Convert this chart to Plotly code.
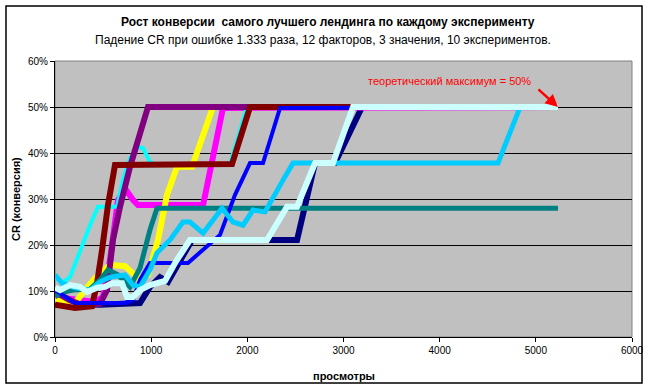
import plotly.graph_objects as go

# ---- data (views, CR %) ----
navy_x = [0, 468, 884, 988, 1092, 1175, 1425, 2517, 2704, 2912, 3193, 5230]
navy_y = [7.4, 7.0, 7.4, 10.9, 13.0, 12.0, 21.1, 21.1, 37.8, 37.8, 50.0, 50.0]

magenta_x = [0, 260, 416, 499, 572, 655, 738, 811, 863, 1540, 1747, 5230]
magenta_y = [8.7, 8.0, 7.6, 8.7, 16.7, 29.8, 32.0, 29.8, 28.7, 28.7, 49.8, 50.0]

yellow_x = [0, 208, 312, 416, 572, 728, 863, 967, 1071, 1165, 1269, 1425, 1643, 5230]
yellow_y = [8.0, 7.4, 10.2, 12.8, 15.7, 15.4, 12.8, 13.5, 21.1, 30.9, 37.0, 37.0, 50.0, 50.0]

cyan_x = [0, 73, 156, 260, 364, 447, 645, 707, 780, 863, 915, 988, 1040, 1820, 1997, 5230]
cyan_y = [13.0, 11.7, 13.0, 18.9, 24.3, 28.3, 28.3, 34.1, 38.9, 41.3, 41.1, 38.0, 37.6, 37.6, 50.0, 50.0]

purple_x = [0, 156, 312, 468, 541, 603, 676, 780, 967, 5230]
purple_y = [9.8, 8.0, 6.7, 7.2, 10.2, 21.1, 28.3, 37.0, 50.0, 50.0]

darkred_x = [0, 208, 385, 437, 489, 551, 624, 1841, 2028, 5230]
darkred_y = [7.0, 6.3, 6.7, 11.7, 18.9, 28.7, 37.4, 37.6, 50.0, 50.0]

teal_x = [0, 52, 187, 364, 468, 551, 655, 780, 884, 988, 1061, 5230]
teal_y = [8.7, 9.6, 10.2, 10.4, 12.4, 14.6, 13.5, 10.9, 15.0, 23.3, 28.0, 28.0]

blue_x = [0, 208, 728, 811, 884, 988, 1383, 1716, 1872, 2028, 2163, 2340, 5230]
blue_y = [10.2, 7.4, 7.4, 8.0, 12.4, 16.1, 16.1, 22.2, 30.9, 37.8, 37.8, 49.8, 50.0]

skyblue_x = [0, 73, 208, 364, 468, 572, 728, 811, 884, 988, 1061, 1196, 1331, 1404, 1540,
             1643, 1737, 1851, 1955, 2059, 2184, 2371, 2475, 4607, 4836, 5230]
skyblue_y = [13.5, 11.7, 10.7, 10.2, 12.0, 13.0, 13.5, 11.3, 10.9, 14.6, 18.3, 21.1, 25.0, 25.0, 22.6,
             25.4, 28.0, 25.0, 24.3, 27.6, 27.2, 34.1, 37.8, 37.8, 50.0, 50.0]

lightcyan_x = [0, 52, 156, 260, 333, 437, 520, 593, 697, 749, 811, 884, 988, 1144, 1248, 1404,
               2205, 2413, 2517, 2704, 2891, 3099, 5230]
lightcyan_y = [10.7, 10.2, 11.3, 10.9, 9.8, 10.7, 10.9, 11.7, 11.7, 8.7, 8.7, 10.2, 11.3, 12.2, 16.1, 21.1,
               21.1, 28.3, 28.3, 37.8, 37.8, 50.0, 50.0]

series = [
    (navy_x, navy_y, "#000080", 6),
    (magenta_x, magenta_y, "#FF00FF", 6),
    (yellow_x, yellow_y, "#FFFF00", 6),
    (cyan_x, cyan_y, "#00FFFF", 4),
    (purple_x, purple_y, "#800080", 6),
    (darkred_x, darkred_y, "#800000", 6),
    (teal_x, teal_y, "#008080", 5),
    (blue_x, blue_y, "#0000FF", 4),
    (skyblue_x, skyblue_y, "#00CCFF", 5),
    (lightcyan_x, lightcyan_y, "#CCFFFF", 6),
]

title_text = "Рост конверсии  самого лучшего лендинга по каждому эксперименту"
subtitle_text = "Падение CR при ошибке 1.333 раза, 12 факторов, 3 значения, 10 экспериментов."
x_title = "просмотры"
y_title = "CR (конверсия)"
note_text = "теоретический максимум = 50%"

FONT = "Liberation Sans, Arial, sans-serif"

fig = go.Figure()
for xs, ys, col, w in series:
    fig.add_trace(go.Scatter(x=xs, y=[v / 100 for v in ys], mode="lines",
                             line=dict(color=col, width=w), showlegend=False,
                             hoverinfo="skip"))

W, H = 651, 390
L, R, T, B = 55, 19, 61, 53
pw, ph = W - L - R, H - T - B

def px(xp):
    return (xp - L) / pw

def py(yp):
    return (H - B - yp) / ph

fig.update_layout(
    width=W, height=H,
    margin=dict(l=L, r=R, t=T, b=B, autoexpand=False),
    paper_bgcolor="white",
    plot_bgcolor="#C0C0C0",
    font=dict(family=FONT, size=10, color="black"),
    xaxis=dict(range=[0, 6000], dtick=1000, tick0=0, showgrid=False, zeroline=False,
               showline=True, linecolor="black", linewidth=1, ticks="outside",
               ticklen=4, tickcolor="black", tickfont=dict(size=10, family=FONT)),
    yaxis=dict(range=[0, 0.6], dtick=0.1, tickformat=".0%", showgrid=True,
               gridcolor="black", gridwidth=1, zeroline=False,
               showline=True, linecolor="black", linewidth=1, ticks="outside",
               ticklen=4, tickcolor="black", tickfont=dict(size=10, family=FONT)),
    shapes=[
        dict(type="rect", xref="paper", yref="paper", x0=0, x1=1, y0=0, y1=1,
             line=dict(color="#808080", width=1), layer="below"),
        dict(type="rect", xref="paper", yref="paper", x0=px(6), x1=px(642),
             y0=py(383), y1=py(6), line=dict(color="black", width=1.5)),
    ],
    annotations=[
        dict(text="<b>" + title_text + "</b>", xref="paper", yref="paper",
             x=px(328), y=py(22), showarrow=False, font=dict(size=12, family=FONT),
             xanchor="center", yanchor="middle"),
        dict(text=subtitle_text, xref="paper", yref="paper",
             x=px(323), y=py(40), showarrow=False, font=dict(size=12, family=FONT),
             xanchor="center", yanchor="middle"),
        dict(text="<b>" + x_title + "</b>", xref="paper", yref="paper",
             x=px(344), y=py(376), showarrow=False, font=dict(size=11, family=FONT),
             xanchor="center", yanchor="middle"),
        dict(text="<b>" + y_title + "</b>", xref="paper", yref="paper",
             x=px(16), y=py(199), showarrow=False, font=dict(size=11, family=FONT),
             textangle=-90, xanchor="center", yanchor="middle"),
        dict(text=note_text, xref="paper", yref="paper",
             x=px(449), y=py(81), showarrow=False, font=dict(size=11, family=FONT, color="#FF0000"),
             xanchor="center", yanchor="middle"),
        dict(text="", x=5230, y=0.5, xref="x", yref="y", showarrow=True,
             ax=-21, ay=-19, arrowhead=2, arrowsize=1, arrowwidth=2.5, arrowcolor="#FF0000"),
    ],
)

fig.write_html("out.html", config={"displayModeBar": False, "staticPlot": True},
               post_script="document.body.style.margin='0';document.body.style.padding='0';")
